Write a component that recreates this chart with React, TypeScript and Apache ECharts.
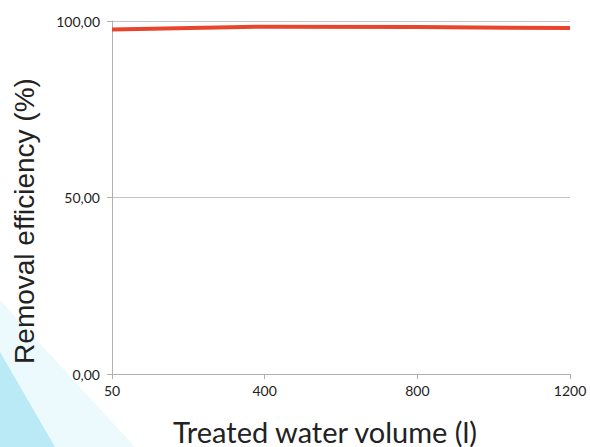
import React, { useEffect, useRef } from "react";
import * as echarts from "echarts";

const categories = ["50", "400", "800", "1200"];
const efficiency = [97.6, 98.4, 98.3, 98.0];
const yTicks = [0, 50, 100];
const yTitle = "Removal efficiency (%)";
const xTitle = "Treated water volume (l)";

export default function App() {
  const ref = useRef<HTMLDivElement>(null);
  useEffect(() => {
    if (!ref.current) return;
    const chart = echarts.init(ref.current, null, { renderer: "svg" });
    chart.setOption({
      animation: false,
      backgroundColor: "#ffffff",
      grid: { left: 112, right: 20, top: 21, bottom: 73, containLabel: false },
      graphic: [
        {
          type: "polygon",
          silent: true,
          z: -10,
          shape: { points: [[0, 300], [135, 447], [0, 447]] },
          style: { fill: "rgba(215,243,250,0.45)" },
        },
        {
          type: "polygon",
          silent: true,
          z: -9,
          shape: { points: [[0, 352], [55, 447], [0, 447]] },
          style: { fill: "rgba(170,228,244,0.75)" },
        },
        {
          type: "text",
          x: 24,
          y: 221,
          rotation: Math.PI / 2,
          style: {
            text: yTitle,
            fontFamily: "Liberation Sans, Arial, sans-serif",
            fontSize: 28,
            fill: "#222",
            align: "center",
            verticalAlign: "middle",
          },
        },
        {
          type: "text",
          x: 325,
          y: 431,
          style: {
            text: xTitle,
            fontFamily: "Lato, sans-serif",
            fontSize: 29,
            fill: "#222",
            align: "center",
            verticalAlign: "middle",
          },
        },
      ],
      xAxis: {
        type: "category",
        data: categories,
        boundaryGap: false,
        axisLine: { show: true, lineStyle: { color: "#b0b0b0", width: 1 } },
        axisTick: { show: true, alignWithLabel: true, length: 5, lineStyle: { color: "#b0b0b0" } },
        axisLabel: {
          color: "#222",
          fontFamily: "Lato, sans-serif",
          fontSize: 14,
          margin: 9,
        },
        splitLine: { show: false },
      },
      yAxis: {
        type: "value",
        min: yTicks[0],
        max: yTicks[yTicks.length - 1],
        interval: 50,
        axisLine: { show: true, lineStyle: { color: "#b0b0b0", width: 1 } },
        axisTick: { show: true, length: 5, lineStyle: { color: "#b0b0b0" } },
        axisLabel: {
          color: "#222",
          fontFamily: "Lato, sans-serif",
          fontSize: 14,
          margin: 12,
          formatter: (v: number) => v.toFixed(2).replace(".", ","),
        },
        splitLine: { show: true, lineStyle: { color: "#c4c4c4", width: 1 } },
      },
      series: [
        {
          type: "line",
          data: efficiency,
          symbol: "none",
          smooth: false,
          lineStyle: { color: "#e8452c", width: 4 },
        },
      ],
    });
    return () => chart.dispose();
  }, []);
  return <div ref={ref} style={{ width: 590, height: 447, position: "absolute", left: 0, top: 0 }} />;
}
